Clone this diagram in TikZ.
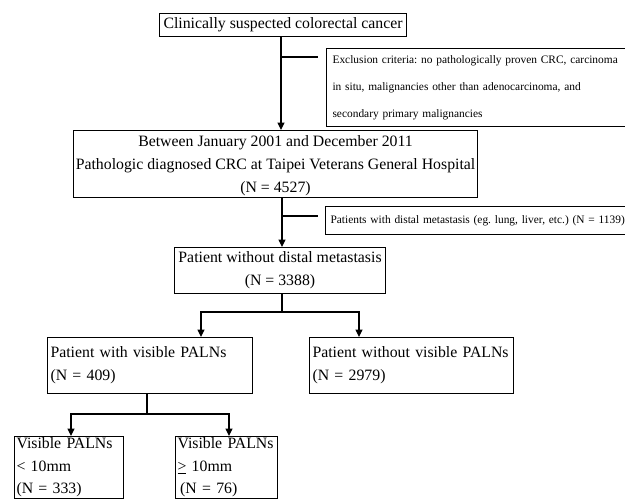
\documentclass[tikz,border=0pt]{standalone}
\usepackage{fontspec}
\setmainfont{Liberation Serif}
\usetikzlibrary{arrows.meta}
\frenchspacing
\begin{document}
\begin{tikzpicture}[x=1pt,y=-1pt,
  box/.style={draw,line width=1.1pt,inner sep=0pt,anchor=north west},
  big/.style={font=\fontsize{15.8}{23}\selectfont},
  arr/.style={line width=1.1pt,-{Triangle[length=7.5pt,width=7pt]}},
  ln/.style={line width=1.1pt}]
\useasboundingbox (0,0) rectangle (625,499);
\clip (0,0) rectangle (625,499);
% boxes
\node[box,big,minimum width=247pt,minimum height=23pt] (b1) at (159,13) {Clinically suspected colorectal cancer};
\node[box,minimum width=320pt,minimum height=78pt,align=left,text width=308pt,inner xsep=6pt,
  font=\fontsize{11.4}{27}\selectfont] (ex) at (326,48) {Exclusion criteria: no pathologically proven CRC, carcinoma\\in situ, malignancies other than adenocarcinoma, and\\secondary primary malignancies};
\node[box,big,minimum width=404pt,minimum height=67pt] (b2) at (73,130) {};
\node[big,align=center,anchor=center] (b2t) at ([yshift=-2pt]b2.center) {Between January 2001 and December 2011\\Pathologic diagnosed CRC at Taipei Veterans General Hospital\\(N = 4527)};
\node[box,minimum width=330pt,minimum height=28pt,align=left,text width=320pt,inner xsep=4pt,
  font=\fontsize{11.4}{12}\selectfont] (dm) at (325,206) {Patients with distal metastasis (eg. lung, liver, etc.) (N = 1139)};
\node[box,big,minimum width=211pt,minimum height=46pt,align=center] (b3) at (174,247) {Patient without distal metastasis\\(N = 3388)};
\node[box,big,minimum width=205pt,minimum height=56pt,align=left,text width=199pt,inner xsep=3pt] (b4) at (47,337) {Patient with visible PALNs\\(N = 409)};
\node[box,big,minimum width=204pt,minimum height=56pt,align=left,text width=198pt,inner xsep=3pt] (b5) at (309,337) {Patient without visible PALNs\\(N = 2979)};
\node[box,minimum width=109pt,minimum height=62pt,align=left,text width=105pt,inner xsep=2pt,
  font=\fontsize{15.8}{22.5}\selectfont] (b6) at (14,436) {Visible PALNs\\< 10mm\\(N = 333)};
\node[box,minimum width=102pt,minimum height=62pt,align=left,text width=98pt,inner xsep=2pt,
  font=\fontsize{15.8}{22.5}\selectfont] (b7) at (175,436) {Visible PALNs\\\underline{>} 10mm\\\,(N = 76)};
% connectors
\coordinate (e1) at (318,57);
\coordinate (e2) at (318,216);
\draw[arr] (b1.south -| 281,0) -- (b2.north -| 281,0);
\draw[ln] (281,57) -- (e1);
\draw[arr] (b2.south -| 282,0) -- (b3.north -| 282,0);
\draw[ln] (282,216) -- (e2);
\coordinate (s3) at (282,312);
\draw[ln] (b3.south -| s3) -- (s3);
\draw[arr] (s3) -| (b4.north -| 201,0);
\draw[arr] (s3) -| (b5.north -| 359,0);
\coordinate (s4) at (147,414);
\draw[ln] (b4.south -| s4) -- (s4);
\draw[arr] (s4) -| (b6.north -| 71,0);
\draw[arr] (s4) -| (b7.north -| 229,0);
\end{tikzpicture}
\end{document}
